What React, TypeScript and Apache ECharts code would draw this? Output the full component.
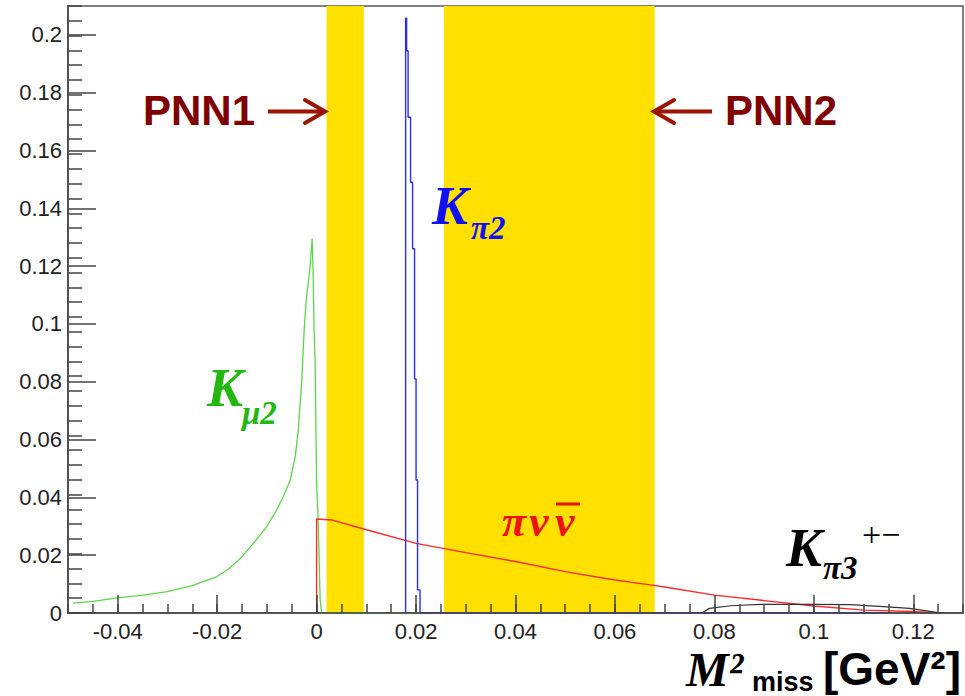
import React, { useEffect, useRef } from "react";
import * as echarts from "echarts";

// ---- axis ranges & ticks ----
const xMin = -0.05;
const xMax = 0.13;
const yMin = 0;
const yMax = 0.21;
const xMajorTicks = [-0.04, -0.02, 0, 0.02, 0.04, 0.06, 0.08, 0.1, 0.12];
const yMajorTicks = [0, 0.02, 0.04, 0.06, 0.08, 0.1, 0.12, 0.14, 0.16, 0.18, 0.2];

// ---- signal regions (M2miss, GeV^2) ----
const pnn1Region = [0.002, 0.0095];
const pnn2Region = [0.0256, 0.068];

// ---- K_mu2 (green) ----
const kmu2X = [-0.049, -0.045, -0.04, -0.035, -0.03, -0.025, -0.02, -0.0175, -0.015, -0.0125, -0.01, -0.008, -0.0067, -0.0053, -0.0043, -0.0037, -0.003, -0.0025, -0.0021, -0.0017, -0.0013, -0.0011, -0.0009, -0.0007, -0.0005, -0.0003, 0.0, 0.0003, 0.0007, 0.001, 0.021];
const kmu2Y = [0.0034, 0.004, 0.0052, 0.0062, 0.0074, 0.0095, 0.0126, 0.0155, 0.0195, 0.0245, 0.03, 0.0357, 0.0403, 0.046, 0.054, 0.063, 0.08, 0.098, 0.108, 0.114, 0.12, 0.125, 0.1295, 0.118, 0.098, 0.087, 0.045, 0.033, 0.005, 0, 0];

// ---- K_pi2 (blue) histogram: bin edges and contents ----
const kpi2Edges = [0.0179, 0.0181, 0.0184, 0.0189, 0.0193, 0.0197, 0.02, 0.0203, 0.0208, 0.115];
const kpi2Values = [0.2058, 0.1945, 0.1715, 0.149, 0.126, 0.081, 0.046, 0.008, 0];

// ---- pi nu nubar (red) ----
const pnnX = [0, 0, 0.003, 0.01, 0.02, 0.03, 0.04, 0.05, 0.06, 0.0667, 0.07, 0.08, 0.09, 0.1, 0.11, 0.12, 0.125];
const pnnY = [0, 0.0325, 0.0322, 0.0288, 0.0241, 0.0209, 0.0178, 0.0143, 0.0114, 0.0098, 0.009, 0.0062, 0.0043, 0.0024, 0.001, 0.0005, 0];

// ---- K_pi3 (black) ----
const kpi3X = [0.0775, 0.079, 0.0833, 0.0893, 0.1, 0.1073, 0.114, 0.1193, 0.124, 0.1255];
const kpi3Y = [0, 0.0016, 0.0025, 0.003, 0.003, 0.0029, 0.0022, 0.0016, 0.0004, 0];

const zip = (xs: number[], ys: number[]) => xs.map((x, i) => [x, ys[i]]);

const histPoints = (edges: number[], values: number[]) => {
  const pts: number[][] = [[edges[0], 0]];
  values.forEach((v, i) => pts.push([edges[i], v]));
  pts.push([edges[edges.length - 1], 0]);
  return pts;
};

const fmt = (v: number) => String(Number(v.toFixed(3)));

const SANS = "Liberation Sans, Arial, Helvetica, sans-serif";
const SERIF = "Liberation Serif, Times New Roman, serif";
const AXIS_COLOR = "#444";
const MAROON = "#800000";
const ARROW = "#9a1400";

export default function App() {
  const ref = useRef<HTMLDivElement>(null);

  useEffect(() => {
    document.body.style.margin = "0";
    if (!ref.current) return;
    const chart = echarts.init(ref.current, null, { renderer: "svg" });

    const tickStyle = { color: AXIS_COLOR, width: 1.5 };
    const labelStyle = { fontFamily: SANS, fontSize: 22, color: "#222" };

    const text = (
      str: string,
      x: number,
      y: number,
      font: string,
      color: string,
      align: string = "left"
    ) => ({
      type: "text",
      x,
      y,
      z: 100,
      style: { text: str, font, fill: color, align, verticalAlign: "middle" },
    });

    const option: any = {
      animation: false,
      backgroundColor: "#fff",
      grid: {
        left: 68,
        top: 6,
        right: 2,
        bottom: 83,
        show: true,
        borderColor: "#555",
        borderWidth: 1.5,
        backgroundColor: "transparent",
      },
      xAxis: [
        {
          type: "value",
          z: 10,
          min: xMin,
          max: xMax,
          position: "bottom",
          axisLine: { show: true, onZero: false, lineStyle: tickStyle },
          axisTick: { show: true, inside: true, length: 18, customValues: xMajorTicks, lineStyle: tickStyle },
          axisLabel: { show: true, customValues: xMajorTicks, formatter: fmt, margin: 7, ...labelStyle },
          splitLine: { show: false },
        },
        {
          type: "value",
          z: 10,
          min: xMin,
          max: xMax,
          interval: 0.005,
          position: "bottom",
          axisLine: { show: false, onZero: false },
          axisTick: { show: true, inside: true, length: 9, lineStyle: tickStyle },
          axisLabel: { show: false },
          splitLine: { show: false },
        },
      ],
      yAxis: [
        {
          type: "value",
          z: 10,
          min: yMin,
          max: yMax,
          position: "left",
          axisLine: { show: true, onZero: false, lineStyle: tickStyle },
          axisTick: { show: true, inside: true, length: 28, customValues: yMajorTicks, lineStyle: tickStyle },
          axisLabel: { show: true, customValues: yMajorTicks, formatter: fmt, margin: 6, ...labelStyle },
          splitLine: { show: false },
        },
        {
          type: "value",
          z: 10,
          min: yMin,
          max: 0.205,
          interval: 0.005,
          position: "left",
          axisLine: { show: false, onZero: false },
          axisTick: { show: true, inside: true, length: 14, lineStyle: tickStyle },
          axisLabel: { show: false },
          splitLine: { show: false },
        },
      ],
      series: [
        {
          type: "line",
          name: "regions",
          z: 1,
          data: [[xMin, 0]],
          showSymbol: false,
          lineStyle: { opacity: 0 },
          silent: true,
          markArea: {
            silent: true,
            itemStyle: { color: "#ffe000" },
            data: [
              [{ xAxis: pnn1Region[0] }, { xAxis: pnn1Region[1] }],
              [{ xAxis: pnn2Region[0] }, { xAxis: pnn2Region[1] }],
            ],
          },
        },
        {
          type: "line",
          name: "Kmu2",
          z: 3,
          data: zip(kmu2X, kmu2Y),
          showSymbol: false,
          lineStyle: { color: "#5cd64c", width: 1.3 },
        },
        {
          type: "line",
          name: "pnn",
          z: 3,
          data: zip(pnnX, pnnY),
          showSymbol: false,
          lineStyle: { color: "#ff2a2a", width: 1.4 },
        },
        {
          type: "line",
          name: "Kpi3",
          z: 3,
          data: zip(kpi3X, kpi3Y),
          showSymbol: false,
          lineStyle: { color: "#333", width: 1.2 },
        },
        {
          type: "line",
          name: "Kpi2",
          z: 4,
          step: "end",
          data: histPoints(kpi2Edges, kpi2Values),
          showSymbol: false,
          lineStyle: { color: "#2b2bff", width: 1.4 },
        },
      ],
      graphic: [
        text("PNN1", 143, 110, `bold 42px ${SANS}`, MAROON),
        text("PNN2", 725, 110, `bold 42px ${SANS}`, MAROON),
        { type: "line", z: 100, shape: { x1: 268, y1: 111.5, x2: 324, y2: 111.5 }, style: { stroke: ARROW, lineWidth: 4 } },
        { type: "polyline", z: 100, shape: { points: [[305, 100], [325, 111.5], [305, 123]] }, style: { stroke: ARROW, lineWidth: 4, fill: null, lineCap: "round" } },
        { type: "line", z: 100, shape: { x1: 655, y1: 111.5, x2: 712, y2: 111.5 }, style: { stroke: ARROW, lineWidth: 4 } },
        { type: "polyline", z: 100, shape: { points: [[674, 100], [654, 111.5], [674, 123]] }, style: { stroke: ARROW, lineWidth: 4, fill: null, lineCap: "round" } },

        text("K", 432, 205.5, `italic bold 54px ${SERIF}`, "#1010f0"),
        text("π2", 471, 228, `italic bold 33px ${SERIF}`, "#1010f0"),

        text("K", 207, 387.5, `italic bold 54px ${SERIF}`, "#22b810"),
        text("μ2", 242, 413, `italic bold 33px ${SERIF}`, "#22b810"),

        text("π", 502, 521, `italic bold 44px ${SERIF}`, "#ee1111"),
        text("ν", 529, 521, `italic bold 44px ${SERIF}`, "#ee1111"),
        text("ν", 555, 521, `italic bold 44px ${SERIF}`, "#ee1111"),
        { type: "line", z: 100, shape: { x1: 556, y1: 504, x2: 580, y2: 504 }, style: { stroke: "#ee1111", lineWidth: 3 } },

        text("K", 786, 547.5, `italic bold 54px ${SERIF}`, "#000"),
        text("π3", 823, 568, `italic bold 33px ${SERIF}`, "#000"),
        text("+−", 862, 534.5, `34px ${SERIF}`, "#000"),

        text("M²", 686, 669, `italic bold 48px ${SERIF}`, "#000"),
        text("miss", 752, 682, `bold 27px ${SANS}`, "#000"),
        text("[GeV²]", 823, 669, `bold 46px ${SANS}`, "#000"),
      ],
    };

    chart.setOption(option);
    return () => chart.dispose();
  }, []);

  return <div ref={ref} style={{ width: 965, height: 696 }} />;
}
